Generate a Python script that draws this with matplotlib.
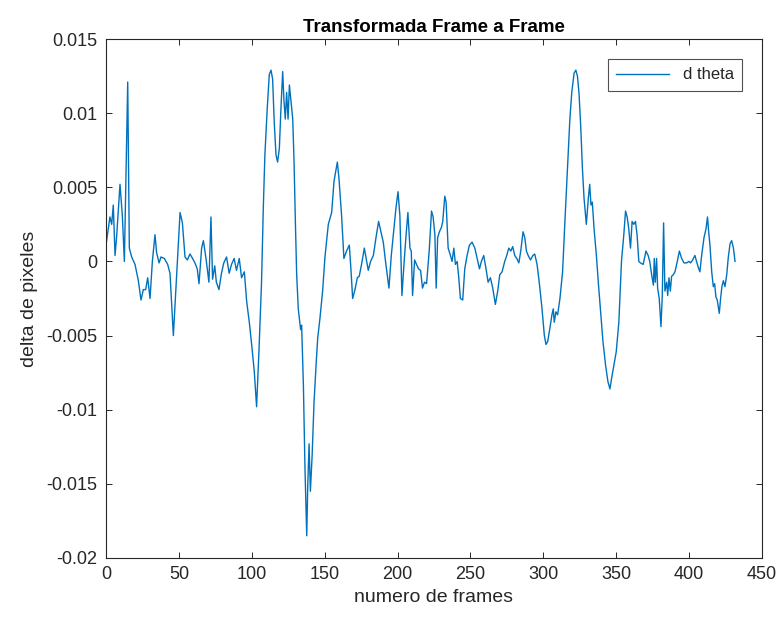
import numpy as np
import matplotlib.pyplot as plt

plt.rcParams['font.family'] = ['Liberation Sans', 'DejaVu Sans']

# values (frame index, d theta)
frames = [0, 2.7, 3.9, 5, 6.2, 7.3, 9.6, 11.2, 12.6, 14.9, 16, 17.6, 19.9, 22.2, 24, 25.6,
          27.2, 28.6, 30.2, 31.8, 33.6, 34.7, 36.4, 37.7, 40, 42.3, 43.9, 46.2, 48.5, 50.8,
          52.4, 54.2, 55.8, 57.6, 59.4, 61, 62.6, 63.8, 65.6, 66.8, 68.6, 69.5, 70.6, 72,
          73.1, 74.6, 75.7, 77.5, 79.2, 80.8, 82.7, 84.5, 86.1, 87.9, 89.5, 91.4, 93, 94.9,
          96.5, 98.3, 99.9, 101.7, 103.3, 104.9, 106.7, 107.9, 109, 110.6, 112, 113.2, 114.3,
          115.4, 116.6, 117.7, 118.9, 120, 121.2, 122.1, 123, 123.9, 124.9, 125.8, 126.9,
          128.1, 129, 129.9, 130.8, 131.9, 133.5, 134.2, 135.4, 136.5, 137.7, 138.4, 139.3,
          140.2, 141.4, 142.7, 144.1, 145.2, 146.8, 148.6, 150.2, 152.5, 154.8, 156.4, 158.7,
          159.8, 161.6, 163.2, 165, 166.9, 168, 169.2, 170.8, 172.4, 173.7, 175.3, 177.2,
          178.8, 179.9, 181.5, 183.4, 185.2, 187, 188.6, 190.2, 192, 194.1, 195.7, 197.5,
          198.9, 200.3, 201.6, 203, 204.4, 205.7, 207.1, 208.5, 209.4, 210.3, 211.7, 213,
          214.4, 215.8, 217.1, 218.5, 219.9, 221.7, 223.3, 224.4, 225.6, 226.5, 227.5, 228.7,
          230.1, 231, 232.4, 233.3, 234.7, 236.3, 237.4, 238.6, 239.7, 240.9, 242, 243.1,
          244.7, 246.1, 247.7, 249.3, 251.1, 253, 254.6, 256.2, 257.5, 259.1, 260.7, 262.1,
          263.7, 265.3, 267.1, 268.7, 270.1, 271.7, 273.5, 274.9, 276.3, 277.7, 279, 280.4,
          281.8, 283.2, 284.5, 286.1, 287.3, 288.4, 289.6, 291.2, 292.8, 294.1, 295.7, 297.3,
          299.1, 300.7, 301.8, 303, 304.5, 305.9, 306.8, 307.5, 308.6, 309.8, 311.4, 313.2,
          314.8, 316.6, 318.2, 319.5, 321.1, 322.3, 323.4, 324.5, 325.7, 326.8, 327.9, 329.5,
          330.9, 331.8, 332.7, 333.6, 334.8, 336.4, 337.7, 339.3, 340.9, 342.7, 344.3, 345.7,
          346.8, 348.4, 350, 351.8, 353.6, 355.2, 356.4, 357.5, 358.6, 359.8, 360.9, 362,
          363.2, 364.3, 365.5, 366.6, 368.5, 370.4, 371.9, 373, 374.3, 375.5, 376.1, 376.8,
          377.7, 378.4, 379.5, 380.7, 381.6, 382.5, 383.4, 384.6, 385.3, 386.2, 387.1, 388,
          389.1, 390.3, 391.9, 393.3, 394.9, 396.5, 398.3, 399.9, 401, 402.4, 404, 405.1,
          406.3, 407.4, 408.6, 410.2, 411.6, 412.6, 413.6, 414.3, 415.5, 416.6, 417.5, 418.4,
          419.3, 420.7, 421.6, 422.5, 423.5, 424.6, 425.8, 426.9, 428.1, 429.2, 430.4, 431.5]

d_theta = [0.0011, 0.0030, 0.0025, 0.0038, 0.0004, 0.0017, 0.0052, 0.0031, 0.0000, 0.0121,
           0.0009, 0.0003, -0.0002, -0.0013, -0.0026, -0.0019, -0.0019, -0.0011, -0.0025,
           0.0000, 0.0018, 0.0006, -0.0001, 0.0003, 0.0002, -0.0002, -0.0008, -0.0050,
           -0.0009, 0.0033, 0.0026, 0.0003, 0.0001, 0.0005, 0.0002, -0.0001, -0.0005, -0.0015,
           0.0009, 0.0014, 0.0002, -0.0005, -0.0014, 0.0030, -0.0012, -0.0003, -0.0014,
           -0.0019, -0.0008, -0.0001, 0.0003, -0.0008, -0.0002, 0.0002, -0.0006, 0.0002,
           -0.0011, -0.0007, -0.0027, -0.0041, -0.0056, -0.0074, -0.0098, -0.0061, -0.0014,
           0.0036, 0.0072, 0.0103, 0.0126, 0.0129, 0.0123, 0.0094, 0.0072, 0.0067, 0.0076,
           0.0103, 0.0128, 0.0108, 0.0096, 0.0114, 0.0096, 0.0119, 0.0108, 0.0096, 0.0067,
           0.0027, -0.0009, -0.0032, -0.0046, -0.0043, -0.0083, -0.0140, -0.0185, -0.0151,
           -0.0123, -0.0155, -0.0131, -0.0095, -0.0070, -0.0052, -0.0038, -0.0020, 0.0003,
           0.0025, 0.0033, 0.0054, 0.0067, 0.0056, 0.0031, 0.0002, 0.0007, 0.0011, -0.0005,
           -0.0025, -0.0019, -0.0011, -0.0010, -0.0002, 0.0009, 0.0000, -0.0006, 0.0000,
           0.0004, 0.0016, 0.0027, 0.0020, 0.0013, -0.0002, -0.0018, 0.0004, 0.0022, 0.0036,
           0.0047, 0.0031, -0.0023, -0.0002, 0.0016, 0.0033, 0.0009, 0.0007, -0.0023, 0.0001,
           -0.0002, -0.0005, -0.0006, -0.0018, -0.0014, -0.0015, 0.0007, 0.0034, 0.0030,
           0.0018, -0.0018, 0.0016, 0.0020, 0.0023, 0.0027, 0.0044, 0.0040, 0.0009, 0.0004,
           0.0000, 0.0009, -0.0002, 0.0000, -0.0011, -0.0025, -0.0026, -0.0005, 0.0004,
           0.0011, 0.0013, 0.0009, 0.0002, -0.0005, 0.0000, 0.0004, -0.0005, -0.0014, -0.0011,
           -0.0018, -0.0029, -0.0020, -0.0009, -0.0007, 0.0000, 0.0004, 0.0009, 0.0007,
           0.0010, 0.0004, 0.0002, -0.0001, 0.0007, 0.0020, 0.0016, 0.0007, 0.0004, 0.0001,
           0.0004, 0.0005, -0.0002, -0.0015, -0.0032, -0.0050, -0.0056, -0.0054, -0.0045,
           -0.0036, -0.0032, -0.0041, -0.0034, -0.0036, -0.0025, -0.0007, 0.0027, 0.0063,
           0.0096, 0.0114, 0.0127, 0.0129, 0.0125, 0.0113, 0.0090, 0.0063, 0.0043, 0.0025,
           0.0043, 0.0052, 0.0038, 0.0040, 0.0022, 0.0004, -0.0014, -0.0034, -0.0054, -0.0070,
           -0.0081, -0.0086, -0.0079, -0.0070, -0.0061, -0.0041, 0.0000, 0.0018, 0.0034,
           0.0030, 0.0022, 0.0009, 0.0027, 0.0025, 0.0027, 0.0018, 0.0000, -0.0001, -0.0002,
           0.0007, 0.0004, 0.0000, -0.0009, -0.0016, 0.0002, -0.0014, 0.0002, -0.0018,
           -0.0025, -0.0044, -0.0023, 0.0026, -0.0020, -0.0014, -0.0023, -0.0011, -0.0020,
           -0.0010, -0.0009, -0.0007, 0.0000, 0.0007, 0.0002, -0.0001, -0.0001, 0.0000,
           -0.0001, 0.0001, 0.0004, 0.0000, -0.0004, -0.0007, 0.0004, 0.0016, 0.0022, 0.0030,
           0.0018, 0.0011, -0.0007, -0.0017, -0.0015, -0.0024, -0.0026, -0.0035, -0.0025,
           -0.0017, -0.0013, -0.0017, -0.0009, 0.0003, 0.0012, 0.0014, 0.0009, 0.0000]

xticks = [0, 50, 100, 150, 200, 250, 300, 350, 400, 450]
yticks = [-0.02, -0.015, -0.01, -0.005, 0, 0.005, 0.01, 0.015]
ytick_labels = ['-0.02', '-0.015', '-0.01', '-0.005', '0', '0.005', '0.01', '0.015']

axcol = '#262626'

fig = plt.figure(figsize=(7.81, 6.23), dpi=100)
ax = fig.add_axes([106 / 781, 65 / 623, 656 / 781, 519 / 623])

ax.plot(frames, d_theta, color='#0072BD', linewidth=1.0, label='d theta')

ax.set_xlim(0, 450)
ax.set_ylim(-0.02, 0.015)
ax.set_xticks(xticks)
ax.set_xticklabels([str(t) for t in xticks])
ax.set_yticks(yticks)
ax.set_yticklabels(ytick_labels)
ax.tick_params(direction='in', top=True, right=True, length=4, width=0.7,
               colors=axcol, labelsize=13, pad=6)
for s in ax.spines.values():
    s.set_color(axcol)
    s.set_linewidth(0.8)

ax.set_title('Transformada Frame a Frame', fontsize=13.5, fontweight='bold', color='black', pad=5)
ax.set_xlabel('numero de frames', fontsize=14, color=axcol, labelpad=4)
ax.set_ylabel('delta de pixeles', fontsize=14, color=axcol, labelpad=6)

leg = ax.legend(loc='upper right', fontsize=12, frameon=True, fancybox=False,
                borderaxespad=1.2, handlelength=3.2, borderpad=0.5)
leg.get_frame().set_edgecolor(axcol)
leg.get_frame().set_linewidth(0.8)
for t in leg.get_texts():
    t.set_color(axcol)

fig.savefig('out.png', dpi=100)
